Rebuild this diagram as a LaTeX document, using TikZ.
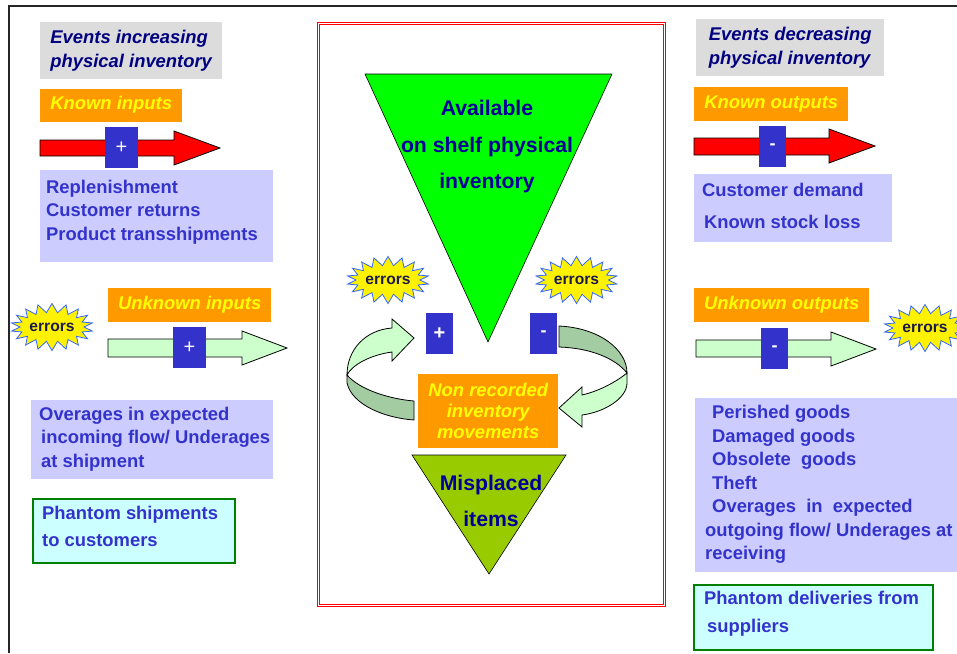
\documentclass[tikz,border=0pt]{standalone}
\usepackage{fontspec}
\setmainfont{Liberation Sans}
\usetikzlibrary{positioning,shapes.symbols}
\definecolor{headgray}{HTML}{DCDCDC}
\definecolor{headnavy}{HTML}{000080}
\definecolor{tagorange}{HTML}{FF9900}
\definecolor{tagyellow}{HTML}{FFFF00}
\definecolor{listfill}{HTML}{CCCCFF}
\definecolor{listblue}{HTML}{3333CC}
\definecolor{signblue}{HTML}{3333CC}
\definecolor{ghostfill}{HTML}{CCFFFF}
\definecolor{ghostline}{HTML}{008000}
\definecolor{flowred}{HTML}{FF0000}
\definecolor{flowgreen}{HTML}{CCFFCC}
\definecolor{backgreen}{HTML}{A3CCA3}
\definecolor{shelfgreen}{HTML}{00FF00}
\definecolor{lostgreen}{HTML}{99CC00}
\definecolor{burstblue}{HTML}{3366FF}
\definecolor{burstink}{HTML}{1A1A4D}
\definecolor{shelfink}{HTML}{000099}
\tikzset{
  frame line/.style={draw=black!85,line width=1.4pt},
  head box/.style={fill=headgray,text=headnavy,align=left,anchor=north west,inner sep=0pt,
    font=\bfseries\itshape\fontsize{18.4}{24}\selectfont},
  tag box/.style={fill=tagorange,text=tagyellow,align=center,anchor=north west,inner sep=0pt,
    font=\bfseries\itshape\fontsize{18.4}{21}\selectfont},
  list box/.style={fill=listfill,anchor=north west,inner sep=0pt},
  ghost box/.style={fill=ghostfill,draw=ghostline,line width=2pt,anchor=north west,inner sep=0pt},
  list text/.style={text=listblue,align=left,anchor=west,inner sep=0pt,
    font=\bfseries\fontsize{18.4}{23.5}\selectfont},
  sign box/.style={fill=signblue,text=white,inner sep=0pt,font=\bfseries\fontsize{18}{18}\selectfont},
  error burst/.style={starburst,starburst points=18,starburst point height=9pt,random starburst=0,
    fill=yellow,draw=burstblue,line width=0.8pt,minimum width=82pt,minimum height=47pt,inner sep=0pt,
    text=burstink,font=\bfseries\fontsize{15.6}{15.6}\selectfont},
  red flow/.style={fill=flowred,draw=black,line width=0.8pt},
  green flow/.style={fill=flowgreen,draw=black,line width=0.8pt},
  loop front/.style={fill=flowgreen,draw=black,line width=0.8pt},
  loop back/.style={fill=backgreen,draw=black,line width=0.8pt},
  stock frame/.style={draw=red,line width=0.8pt,double=white,double distance=1.4pt},
  shelf tri/.style={fill=shelfgreen,draw=black,line width=0.6pt},
  lost tri/.style={fill=lostgreen,draw=black,line width=0.6pt},
  shelf text/.style={text=shelfink,align=center,inner sep=0pt,font=\bfseries\fontsize{21.2}{36.5}\selectfont}
}
\begin{document}
\begin{tikzpicture}[x=1pt,y=-1pt]
\useasboundingbox (0,0) rectangle (957,653);
\draw[frame line] (9,653) -- (9,6) -- (957,6);

% increasing side
\node[head box, minimum width=182pt, minimum height=57pt] (incr) at (40,22) {Events increasing\\physical inventory};
\node[tag box, minimum width=142pt, minimum height=33pt, below=9pt of incr.south west, anchor=north west] (kin) {Known inputs};
\path[red flow] (40,140) -- (174,140) -- (174,131) -- (220,148) -- (174,165) -- (174,156) -- (40,156) -- cycle;
\node[sign box, minimum width=33pt, minimum height=41pt, font=\fontsize{20}{20}\selectfont] (kinsign) at (121.5,147.5) {+};
\node[list box, minimum width=233pt, minimum height=92pt] (kinbox) at (40,170) {};
\node[list text] (kinlist) at (46,212) {Replenishment\\Customer returns\\Product transshipments};

\node[error burst] (errin) at (52,327) {errors};
\node[tag box, minimum width=163pt, minimum height=34pt] (uin) at (108,288) {Unknown inputs};
\path[green flow] (108,339) -- (242,339) -- (242,331) -- (287,348) -- (242,365) -- (242,357) -- (108,357) -- cycle;
\node[sign box, minimum width=33pt, minimum height=41pt, font=\fontsize{20}{20}\selectfont] (uinsign) at (189.5,347.5) {+};
\node[list box, minimum width=242pt, minimum height=79pt] (uinbox) at (31,400) {};
\node[list text] (uinlist) at (39,439) {Overages in expected\\\hspace*{2pt}incoming flow/ Underages\\\hspace*{2pt}at shipment};
\node[ghost box, minimum width=202pt, minimum height=64pt] (shipbox) at (32,498) {};
\node[list text, font=\bfseries\fontsize{18.4}{27}\selectfont] (ship) at (42,526.5) {Phantom shipments\\to customers};

% stock in the middle
\draw[stock frame] (318.5,23.5) rectangle (664.5,605.5);
\path[shelf tri] (365,74) -- (612,74) -- (488,342) -- cycle;
\node[shelf text] (avail) at (487,147) {Available\\on shelf physical\\inventory};
\node[error burst] (errplus) at (388,280) {errors};
\node[error burst] (errminus) at (576.5,280) {errors};
\node[sign box, minimum width=27pt, minimum height=41pt, font=\bfseries\fontsize{20}{20}\selectfont] (plus) at (439.5,333.5) {+};
\node[sign box, minimum width=27pt, minimum height=41pt] (minus) at (543.5,333.5) {-};
\path[loop back] (347,375) .. controls (360,390) and (390,399) .. (414,401) -- (414,420) .. controls (385,418) and (352,405) .. (347,383) -- cycle;
\path[loop front] (392,319) -- (414,338) -- (392,361) -- (392,352) .. controls (370,355) and (352,365) .. (347,375) .. controls (347,350) and (365,330) .. (392,328) -- cycle;
\path[loop back] (559,326) .. controls (600,328) and (627,350) .. (627,373) .. controls (615,358) and (590,348) .. (559,347) -- cycle;
\path[loop front] (627,373) .. controls (612,385) and (595,392) .. (582,395) -- (582,387) -- (559,408) -- (582,427) -- (582,415) .. controls (605,412) and (627,398) .. (627,383) -- cycle;
\node[tag box, minimum width=140pt, minimum height=74pt] (nonrec) at (418,374) {Non recorded\\inventory\\movements};
\path[lost tri] (412,455) -- (566,455) -- (489,574) -- cycle;
\node[shelf text, font=\bfseries\fontsize{21.2}{36}\selectfont] (lost) at (491,501) {Misplaced\\items};

% decreasing side
\node[head box, minimum width=188pt, minimum height=57pt] (decr) at (696,19) {Events decreasing\\physical inventory};
\node[tag box, minimum width=154pt, minimum height=34pt] (kout) at (694,87) {Known outputs};
\path[red flow] (694,138) -- (829,138) -- (829,129) -- (875,146) -- (829,163) -- (829,155) -- (694,155) -- cycle;
\node[sign box, minimum width=27pt, minimum height=41pt] (koutsign) at (772.5,146.5) {-};
\node[list box, minimum width=198pt, minimum height=68pt] (koutbox) at (694,174) {};
\node[list text, font=\bfseries\fontsize{18.4}{32}\selectfont] (koutlist) at (702,206) {Customer demand\\\hspace*{2pt}Known stock loss};

\node[tag box, minimum width=175pt, minimum height=34pt] (uout) at (694,288) {Unknown outputs};
\path[green flow] (696,340) -- (831,340) -- (831,332) -- (876,349) -- (831,366) -- (831,357) -- (696,357) -- cycle;
\node[sign box, minimum width=27pt, minimum height=41pt] (uoutsign) at (774.5,348.5) {-};
\node[error burst] (errout) at (925,328) {errors};
\node[list box, minimum width=266pt, minimum height=174pt] (uoutbox) at (695,398) {};
\node[list text] (uoutlist) at (705,484.7) {\hspace*{7pt}Perished goods\\\hspace*{7pt}Damaged goods\\\hspace*{7pt}Obsolete\ \ goods\\\hspace*{7pt}Theft\\\hspace*{7pt}Overages\ \ in\ \ expected\\outgoing flow/ Underages at\\receiving};
\node[ghost box, minimum width=239pt, minimum height=65pt] (delbox) at (693,584) {};
\node[list text, font=\bfseries\fontsize{18.4}{28}\selectfont] (del) at (704,614) {Phantom deliveries from\\\hspace*{3pt}suppliers};
\end{tikzpicture}
\end{document}
